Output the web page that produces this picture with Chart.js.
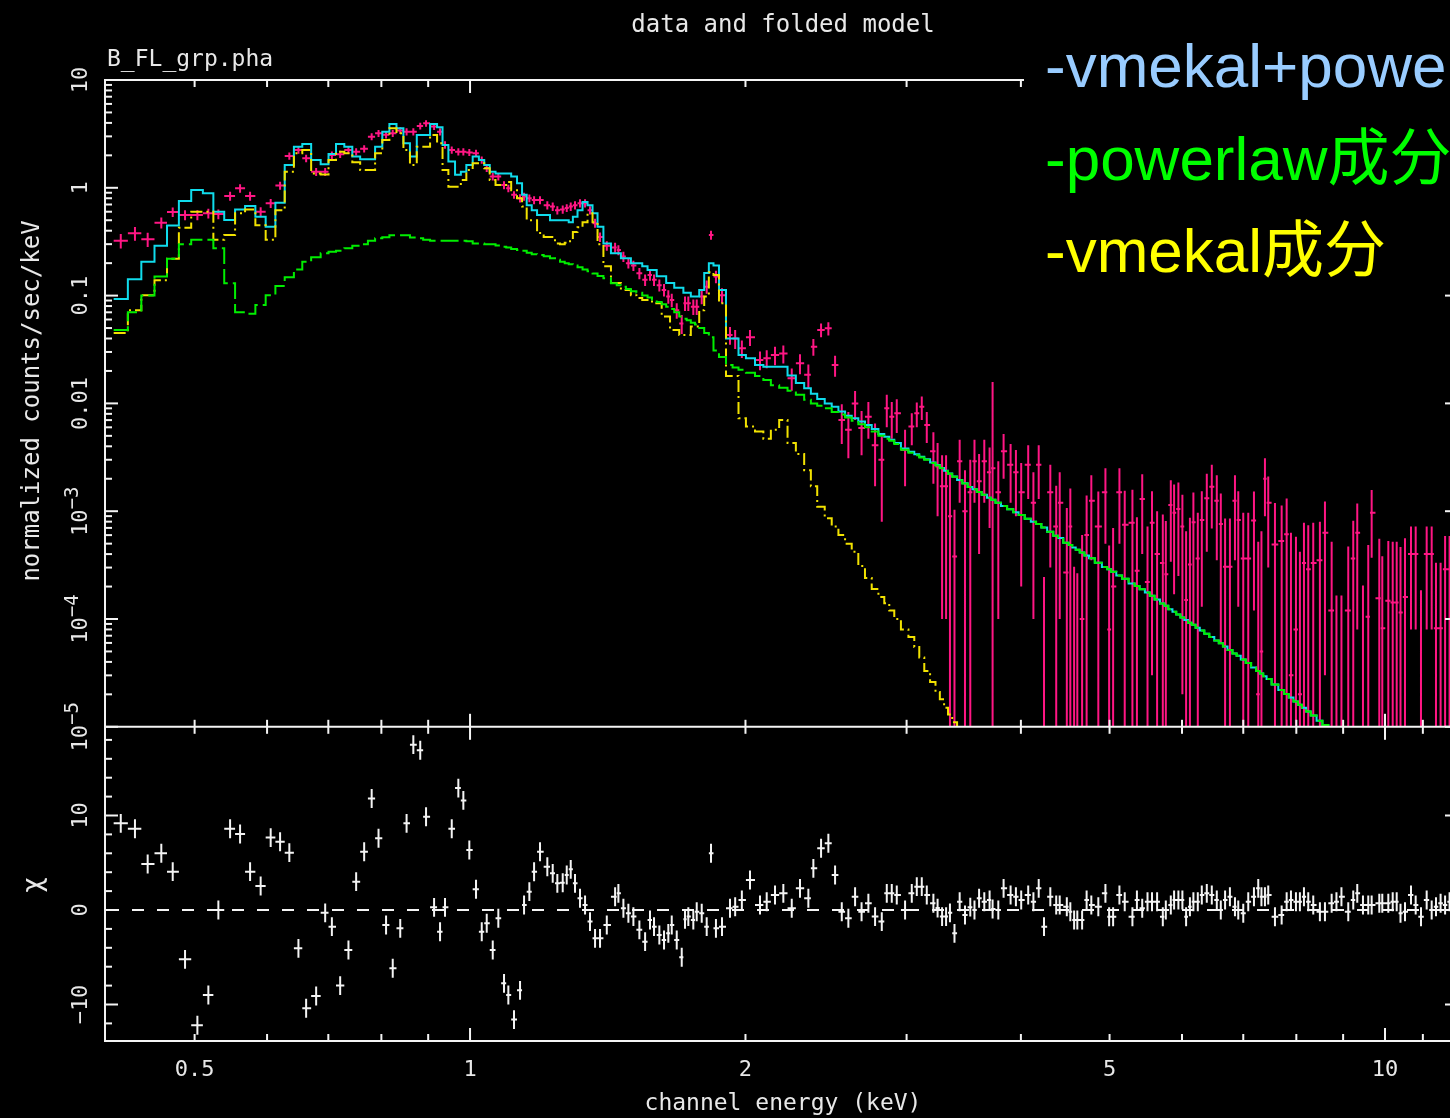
<!DOCTYPE html>
<html>
<head>
<meta charset="utf-8">
<script src="https://cdn.jsdelivr.net/npm/chart.js"></script>
<style>
html,body{margin:0;padding:0;background:#000;overflow:hidden;width:1450px;height:1118px;}
#wrap{position:relative;width:1450px;height:1118px;overflow:hidden;background:#000;}
#c{position:absolute;left:0;top:0;}
</style>
</head>
<body>
<div id="wrap"><canvas id="c" width="1460" height="1118" style="width:1460px;height:1118px;"></canvas></div>
<script>
// ---------------- data ----------------
const energy = [
0.4152,0.4303,0.4443,0.4598,0.4732,0.4881,0.5035,0.5176,0.5308,0.5467,
0.5606,0.5749,0.5904,0.6055,0.6200,0.6346,0.6493,0.6620,0.6789,0.6945,
0.7063,0.7212,0.7364,0.7508,0.7661,0.7807,0.7943,0.8095,0.8232,0.8389,
0.8524,0.8670,0.8822,0.8952,0.9135,0.9273,0.9390,0.9550,0.9710,0.9833,
0.9982,1.0152,1.0299,1.0429,1.0588,1.0738,1.0893,1.1012,1.1170,1.1341,
1.1456,1.1610,1.1749,1.1926,1.2147,1.2313,1.2457,1.2627,1.2755,1.2884,
1.3024,1.3189,1.3357,1.3525,1.3697,1.3870,1.4108,1.4406,1.4526,1.4710,
1.4896,1.5085,1.5314,1.5536,1.5729,1.5889,1.6103,1.6294,1.6471,1.6613,
1.6823,1.7036,1.7178,1.7321,1.7540,1.7691,1.7915,1.8141,1.8339,1.8568,
1.8853,1.9236,1.9488,1.9819,2.0229,2.0745,2.1098,2.1544,2.2000,2.2470,
2.2941,2.3430,2.3727,2.4191,2.4640,2.5059,2.5485,2.5912,2.6353,2.6787,
2.7250,2.7713,2.8185,2.8541,2.8902,2.9268,2.9886,3.0395,3.0780,3.1169,
3.1564,3.2094,3.2435,3.2804,3.3136,3.3460,3.3843,3.4288,3.4749,3.5216,
3.5590,3.6005,3.6480,3.6970,3.7250,3.7789,3.8296,3.8977,3.9501,4.0031,
4.0743,4.1280,4.1834,4.2397,4.3074,4.3719,4.4105,4.4900,4.5298,4.5733,
4.6103,4.6663,4.7195,4.7756,4.8605,4.9482,4.9945,5.0450,5.1257,5.1945,
5.2961,5.3563,5.4283,5.5011,5.5637,5.6355,5.7170,5.7603,5.8332,5.8817,
5.9457,6.0058,6.0621,6.1206,6.1745,6.2432,6.3064,6.3861,6.4670,6.5488,
6.6151,6.6871,6.7687,6.8553,6.9125,6.9999,7.0885,7.1909,7.2691,7.3278,
7.3926,7.4542,7.5813,7.7100,7.8076,7.8926,7.9925,8.0723,8.1551,8.2439,
8.3482,8.4889,8.5977,8.7439,8.8502,8.9622,9.1170,9.2324,9.3258,9.4607,
9.5877,9.6701,9.8576,9.9323,10.084,10.196,10.299,10.398,10.516,10.676,
10.803,10.948,11.106,11.247,11.369,11.502,11.633,11.765
];
const rate = [
0.323,0.378,0.333,0.474,0.596,0.56,0.56,0.58,0.57,0.84,
0.99,0.84,0.60,0.718,1.05,1.97,2.24,1.88,1.41,1.41,
2.01,2.05,2.24,2.16,2.3,2.98,3.2,3.1,3.2,3.4,
3.31,3.31,3.74,3.96,3.7,3.31,2.5,2.24,2.16,2.16,
2.13,2.09,1.81,1.52,1.27,1.27,1.06,0.99,0.86,0.80,
0.83,0.80,0.77,0.77,0.69,0.67,0.62,0.63,0.65,0.67,
0.69,0.72,0.72,0.62,0.47,0.35,0.29,0.28,0.265,0.23,
0.2,0.19,0.161,0.14,0.155,0.14,0.125,0.113,0.098,0.091,
0.073,0.055,0.085,0.085,0.079,0.079,0.098,0.121,0.365,0.15,
0.101,0.043,0.04,0.0324,0.041,0.0253,0.0262,0.0281,0.029,0.0171,
0.0236,0.0184,0.0336,0.048,0.0497,0.0227,0.007,0.0057,0.01,0.0059,
0.0075,0.0041,0.003,0.009,0.0075,0.0081,0.0037,0.0061,0.0081,0.0093,
0.0063,0.0036,0.0026,0.0017,0.0017,0.0009,0.00038,0.0029,0.001,0.0015,
0.0029,0.0019,0.0029,0.0023,0.0025,0.0015,0.0036,0.0027,0.0023,0.0015,
0.0027,0.0012,0.0027,0.000005,0.0015,0.00072,0.0012,0.00027,0.00072,0.000005,
0.000005,0.0001,0.0006,0.00125,0.00072,0.0015,0.00008,0.0002,0.0015,0.00075,
0.00078,0.00028,0.0013,0.00022,0.00078,0.0004,0.00033,0.00026,0.00114,0.00097,
0.00105,0.00072,0.00015,0.00032,0.00079,0.000365,0.00083,0.00132,0.00169,0.00125,
0.00076,0.000305,0.000305,0.00125,0.00083,0.000365,0.000365,0.00082,0.00002,0.00005,
0.002,0.0012,0.00049,0.00053,0.00061,0.00003,0.00008,0.00002,0.00033,0.00029,
0.00033,0.00035,0.00063,0.00012,0.000005,0.000005,0.00012,0.000365,0.00063,0.000005,
0.000105,0.00097,0.000156,0.000082,0.000148,0.000142,0.000142,0.000115,0.00016,0.0004,
0.0004,0.000005,0.0004,0.0004,0.000082,0.000082,0.00029,0.00029
];
const rateErr = [
0.05,0.055,0.05,0.055,0.06,0.06,0.06,0.06,0.06,0.08,
0.09,0.08,0.06,0.07,0.09,0.15,0.17,0.15,0.12,0.12,
0.16,0.16,0.17,0.17,0.18,0.22,0.24,0.23,0.24,0.25,
0.25,0.25,0.27,0.28,0.27,0.25,0.2,0.17,0.17,0.17,
0.16,0.16,0.14,0.12,0.1,0.1,0.09,0.08,0.07,0.07,
0.07,0.065,0.065,0.065,0.06,0.06,0.055,0.055,0.055,0.06,
0.06,0.065,0.065,0.055,0.045,0.035,0.03,0.03,0.028,0.025,
0.022,0.021,0.019,0.017,0.018,0.017,0.016,0.015,0.014,0.013,
0.012,0.011,0.013,0.013,0.013,0.013,0.015,0.017,0.035,0.02,
0.016,0.008,0.008,0.006,0.007,0.005,0.005,0.0055,0.0055,0.004,
0.005,0.0045,0.006,0.007,0.007,0.005,0.0028,0.0026,0.003,0.0026,
0.0028,0.0024,0.0022,0.003,0.0028,0.0028,0.002,0.002,0.0021,0.0023,
0.002,0.0018,0.0017,0.0016,0.0016,0.0013,0.00065,0.0017,0.0014,0.0015,
0.0017,0.0015,0.0017,0.0016,0.0133,0.0014,0.0016,0.0015,0.0014,0.0013,
0.0014,0.0011,0.0014,0.00024,0.0012,0.001,0.0011,0.0008,0.0009,0.0003,
0.00026,0.0005,0.0008,0.0009,0.0008,0.001,0.0004,0.0005,0.001,0.0008,
0.0008,0.0006,0.0009,0.0005,0.00075,0.0006,0.0006,0.00055,0.0008,0.0008,
0.0008,0.0007,0.0005,0.00055,0.0007,0.0006,0.0007,0.0009,0.001,0.0009,
0.0007,0.00055,0.00055,0.0009,0.0007,0.0006,0.0006,0.0007,0.0005,0.0006,
0.0011,0.0009,0.0007,0.0006,0.0007,0.0006,0.0005,0.0004,0.00045,0.00045,
0.00045,0.00045,0.0006,0.0004,0.00016,0.00016,0.00035,0.00045,0.00055,0.0002,
0.00038,0.0006,0.0004,0.0003,0.00038,0.00038,0.00038,0.00035,0.0004,0.00032,
0.00032,0.00018,0.00032,0.00032,0.00025,0.00025,0.0003,0.0003
];
const modelTotal = [
0.093,0.142,0.206,0.29,0.446,0.755,0.955,0.89,0.6,0.502,
0.63,0.678,0.54,0.436,0.727,1.63,2.4,2.55,1.81,1.65,
2.06,2.55,2.4,1.95,1.84,1.84,2.4,3.31,3.91,3.56,
2.59,1.95,3.09,3.09,3.91,3.64,2.5,1.75,1.32,1.41,
1.63,1.95,1.81,1.63,1.41,1.36,1.36,1.36,1.27,1.1,
0.86,0.69,0.62,0.56,0.56,0.5,0.5,0.5,0.5,0.48,
0.54,0.62,0.74,0.69,0.58,0.436,0.305,0.247,0.247,0.222,
0.222,0.2,0.2,0.187,0.173,0.173,0.151,0.151,0.131,0.131,
0.118,0.118,0.106,0.106,0.098,0.098,0.113,0.162,0.2,0.19,
0.113,0.04,0.04,0.0281,0.0262,0.0227,0.0219,0.0219,0.0219,0.0181,
0.0155,0.0138,0.0123,0.011,0.01,0.0093,0.0084,0.0077,0.0073,0.0068,
0.0063,0.0058,0.0052,0.0049,0.0046,0.0043,0.00382,0.00356,0.00337,0.0032,
0.00303,0.00283,0.00268,0.00251,0.00237,0.00224,0.0021,0.00195,0.00182,0.00168,
0.0016,0.00151,0.00142,0.00133,0.00128,0.0012,0.00112,0.00104,0.00098,0.00092,
0.00085,0.0008,0.00076,0.000705,0.000644,0.000593,0.000564,0.000509,0.000485,0.00046,
0.00044,0.000413,0.000389,0.000366,0.000333,0.000303,0.000289,0.000274,0.000253,0.000236,
0.000214,0.000202,0.000189,0.000176,0.000164,0.000152,0.000139,0.000133,0.000123,0.000117,
0.00011,0.000103,0.000098,0.0000925,0.0000883,0.000083,0.0000784,0.000073,0.0000679,0.0000632,
0.0000596,0.0000557,0.0000516,0.0000479,0.0000455,0.0000422,0.0000391,0.0000355,0.000033,0.0000312,
0.0000294,0.0000277,0.0000247,0.000022,0.0000202,0.0000187,0.0000172,0.000016,0.000015,0.0000139,
0.0000127,0.0000114,0.0000104,0.0000092,0.0000085,0.0000078,0.0000069,0.0000063,0.0000059,0.0000053,
0.0000048,0.0000045,0.000004,0.0000038,0.0000034,0.0000031,0.0000029,0.0000027,0.0000025,0.00000225,
0.00000207,0.00000188,0.0000017,0.00000155,0.00000144,0.00000132,0.00000122,0.00000113
];
const modelPowerlaw = [
0.048,0.07,0.1,0.15,0.22,0.3,0.33,0.33,0.275,0.13,
0.07,0.068,0.082,0.101,0.123,0.148,0.175,0.206,0.227,0.247,
0.255,0.261,0.275,0.29,0.3,0.323,0.34,0.347,0.363,0.363,
0.363,0.345,0.34,0.33,0.323,0.323,0.323,0.323,0.323,0.323,
0.32,0.305,0.305,0.3,0.3,0.292,0.284,0.28,0.27,0.265,
0.26,0.25,0.242,0.238,0.232,0.222,0.215,0.206,0.2,0.195,
0.19,0.183,0.175,0.168,0.16,0.152,0.145,0.13,0.125,0.121,
0.115,0.11,0.106,0.1,0.096,0.092,0.087,0.083,0.079,0.075,
0.07,0.064,0.061,0.059,0.056,0.054,0.05,0.045,0.041,0.031,
0.027,0.0227,0.0215,0.0205,0.0192,0.018,0.0165,0.0147,0.014,0.0131,
0.012,0.0108,0.01,0.0095,0.009,0.0083,0.0079,0.0074,0.0069,0.0064,
0.006,0.0055,0.005,0.0047,0.0045,0.0042,0.00372,0.00349,0.00331,0.00315,
0.003,0.0028,0.00266,0.0025,0.00236,0.00223,0.00209,0.00194,0.00181,0.00168,
0.0016,0.00151,0.00142,0.00133,0.00128,0.0012,0.00112,0.00104,0.00098,0.00092,
0.00085,0.0008,0.00076,0.000705,0.000644,0.000593,0.000564,0.000509,0.000485,0.00046,
0.00044,0.000413,0.000389,0.000366,0.000333,0.000303,0.000289,0.000274,0.000253,0.000236,
0.000214,0.000202,0.000189,0.000176,0.000164,0.000152,0.000139,0.000133,0.000123,0.000117,
0.00011,0.000103,0.000098,0.0000925,0.0000883,0.000083,0.0000784,0.000073,0.0000679,0.0000632,
0.0000596,0.0000557,0.0000516,0.0000479,0.0000455,0.0000422,0.0000391,0.0000355,0.000033,0.0000312,
0.0000294,0.0000277,0.0000247,0.000022,0.0000202,0.0000187,0.0000172,0.000016,0.000015,0.0000139,
0.0000127,0.0000114,0.0000104,0.0000092,0.0000085,0.0000078,0.0000069,0.0000063,0.0000059,0.0000053,
0.0000048,0.0000045,0.000004,0.0000038,0.0000034,0.0000031,0.0000029,0.0000027,0.0000025,0.00000225,
0.00000207,0.00000188,0.0000017,0.00000155,0.00000144,0.00000132,0.00000122,0.00000113
];
const modelVmekal = [
0.045,0.073,0.101,0.139,0.22,0.426,0.6,0.6,0.33,0.365,
0.58,0.63,0.45,0.33,0.62,1.41,2.09,2.24,1.36,1.33,
1.81,2.16,2.09,1.73,1.46,1.46,2.09,2.77,3.56,3.2,
2.24,1.63,2.4,2.4,3.09,2.59,1.46,1.02,1.02,1.18,
1.46,1.69,1.69,1.52,1.18,1.06,1.06,1.13,0.95,0.8,
0.67,0.5,0.5,0.38,0.35,0.35,0.305,0.3,0.31,0.32,
0.39,0.43,0.48,0.58,0.48,0.3,0.187,0.131,0.131,0.113,
0.113,0.101,0.095,0.091,0.091,0.085,0.085,0.064,0.064,0.048,
0.048,0.043,0.043,0.043,0.0517,0.0517,0.073,0.098,0.165,0.155,
0.085,0.018,0.018,0.0073,0.0061,0.0055,0.0047,0.0057,0.007,0.0043,
0.0034,0.0024,0.0017,0.0011,0.00086,0.00072,0.0006,0.0005,0.00042,0.00031,
0.00024,0.00019,0.00016,0.00014,0.00012,0.0001,0.00008,0.000068,0.000055,0.000044,
0.000033,0.000026,0.000021,0.000018,0.000015,0.000013,0.000011,0.0000085,0.000007,0.000005
];
const chi = [
9.17,8.6,4.87,6.0,4.06,-5.22,-12.2,-9.0,0,8.6,
8.04,4.06,2.54,7.66,7.23,6.07,-4.06,-10.4,-9.1,-0.3,
-1.76,-8.0,-4.23,3.0,6.17,11.8,7.59,-1.59,-6.17,-1.94,
9.17,17.5,16.9,9.87,0.28,-2.3,0.28,8.6,12.9,11.6,
6.35,2.19,-2.3,-1.41,-4.23,-0.88,-7.76,-9.0,-11.6,-8.5,
0.53,1.94,4.05,6.17,4.58,3.88,2.82,2.89,3.7,4.3,
2.82,1.24,0.53,-1.23,-3.0,-3.0,-1.59,1.41,1.76,0.18,
-0.35,-0.7,-2.1,-3.35,-1.06,-1.76,-2.65,-3.17,-2.47,-1.59,
-3.17,-5.0,-0.99,-0.7,-1.06,-0.18,-0.35,-1.76,6.0,-1.94,
-1.76,0.18,0.35,1.06,3.17,0.53,0.88,1.59,1.76,0.18,
2.29,1.24,4.41,6.53,7.06,3.7,-0.18,-0.88,1.41,-0.18,
0.71,-0.7,-1.23,1.76,1.76,1.59,0,1.76,2.47,2.47,
1.59,0.71,0.2,-0.7,-0.7,-0.3,-2.47,0.88,-0.53,0.3,
0,1.24,0.88,1.06,0.1,0,2.29,1.59,1.41,1.06,
1.59,0.88,2.29,-1.76,1.41,0.53,0.53,0.35,-0.18,-1.06,
-1.06,-1.06,1.06,0.53,0.35,1.76,-0.71,-0.71,1.59,0.88,
-0.71,1.06,0.18,0.88,0.88,0.88,-0.71,0,0.53,1.06,
1.06,1.06,-0.71,0.35,0.88,0.88,1.59,1.76,1.59,1.06,
0,1.06,1.41,0.35,0,-0.35,0.88,1.41,2.29,1.41,
1.41,1.59,-0.71,-0.53,0.88,1.06,0.88,0.88,1.41,0.88,
0.53,-0.18,-0.18,0.71,0.88,1.41,-0.18,1.06,1.76,0.53,
0.53,0.53,0.71,0.71,0.71,0.88,0.88,-0.35,-0.18,1.59,
0.53,-0.71,1.06,0,0.35,0.71,0.53,0.88
];
const xTickValues = [0.5,0.6,0.7,0.8,0.9,1,2,3,4,5,6,7,8,9,10,11,12];
const xMajorTicks = [1,10];
const xLabelValues = [0.5,1,2,5,10];
const xLabels = ['0.5','1','2','5','10'];
const yLabelValues = [10,1,0.1,0.01,1e-3,1e-4,1e-5];
const yLabels = [['10',''],['1',''],['0.1',''],['0.01',''],['10','\u22123'],['10','\u22124'],['10','\u22125']];
const chiLabelValues = [10,0,-10];
const chiLabels = ['10','0','\u221210'];
const legendLines = [
  {text:'-vmekal+powerlaw', color:'#99ccff'},
  {text:'-powerlaw\u6210\u5206', color:'#00ff00'},
  {text:'-vmekal\u6210\u5206', color:'#ffff00'}
];

// ---------------- layout constants ----------------
const TOP = 80, MID = 727, BOT = 1041, LEFT = 105, RIGHTPX = 1458;
const DECADE = 107.8;               // px per decade (upper panel)
const CHIPX = 9.45;                 // px per chi unit (lower panel)
const CHI0 = 910;                   // px of chi = 0
const X_MIN = 0.39905, X_MAX = 12.017;
const Y_MAX = 10, Y_MIN = Math.pow(10, 1 - (BOT - TOP) / DECADE);
const C_MAX = (CHI0 - TOP) / CHIPX, C_MIN = -(BOT - CHI0) / CHIPX;

const MAG = '#ff1684', CYAN = '#10dcec', GRN = '#00ee00', YEL = '#f2e200', WHITE = '#f4f4f4';

// ---------------- build library data ----------------
const n = energy.length;
const edges = new Array(n + 1);
for (let i = 1; i < n; i++) edges[i] = Math.sqrt(energy[i - 1] * energy[i]);
edges[0] = energy[0] * energy[0] / edges[1];
edges[n] = energy[n - 1] * energy[n - 1] / edges[n - 1];

const dataCross = [];
for (let i = 0; i < n; i++) {
  const v = rate[i], e = rateErr[i];
  dataCross.push({x: edges[i], y: v}, {x: edges[i + 1], y: v}, {x: edges[i + 1], y: null});
  dataCross.push({x: energy[i], y: Math.max(v - e, 1e-10)}, {x: energy[i], y: v + e}, {x: energy[i], y: null});
}
const chiCross = [];
for (let i = 0; i < n; i++) {
  const c = chi[i];
  chiCross.push({x: edges[i], y: c}, {x: edges[i + 1], y: c}, {x: edges[i + 1], y: null});
  chiCross.push({x: energy[i], y: c - 1}, {x: energy[i], y: c + 1}, {x: energy[i], y: null});
}
function steps(vals) {
  const pts = [];
  for (let i = 0; i < vals.length; i++) pts.push({x: edges[i], y: vals[i]}, {x: edges[i + 1], y: vals[i]});
  return pts;
}
const clipTop = {left: 0, top: 0, right: 0, bottom: -(BOT - MID)};
const clipBot = {left: 0, top: -(MID - TOP), right: 0, bottom: 0};
const base = {pointRadius: 0, pointHoverRadius: 0, fill: false, tension: 0, spanGaps: false, borderWidth: 2};

// ---------------- frame / text plugin ----------------
const framePlugin = {
  id: 'xspecFrame',
  afterDraw(chart) {
    const ctx = chart.ctx, a = chart.chartArea;
    const xs = chart.scales.x, ys = chart.scales.y, yc = chart.scales.y2;
    const mid = ys.getPixelForValue(1e-5);
    ctx.save();
    ctx.strokeStyle = WHITE; ctx.lineWidth = 2; ctx.lineCap = 'butt';
    const seg = (x1, y1, x2, y2) => { ctx.beginPath(); ctx.moveTo(x1, y1); ctx.lineTo(x2, y2); ctx.stroke(); };
    // frame
    seg(a.left, a.top, a.right, a.top);
    seg(a.left, mid, a.right, mid);
    seg(a.left, a.bottom, a.right, a.bottom);
    seg(a.left, a.top - 1, a.left, a.bottom + 1);
    seg(a.right, a.top - 1, a.right, a.bottom + 1);
    // x ticks
    xTickValues.forEach(t => {
      const px = xs.getPixelForValue(t);
      const L = xMajorTicks.includes(t) ? 13 : 7;
      seg(px, a.top, px, a.top + L);
      seg(px, mid - L, px, mid + L);
      seg(px, a.bottom, px, a.bottom - L);
    });
    // y ticks upper panel
    for (let p = -5; p <= 1; p++) {
      const d = Math.pow(10, p);
      let py = ys.getPixelForValue(d);
      seg(a.left, py, a.left + 13, py); seg(a.right, py, a.right - 13, py);
      if (p < 1) for (let k = 2; k <= 9; k++) {
        py = ys.getPixelForValue(k * d);
        seg(a.left, py, a.left + 7, py); seg(a.right, py, a.right - 7, py);
      }
    }
    // y ticks lower panel
    for (let c = -12; c <= 18; c += 2) {
      const py = yc.getPixelForValue(c);
      const L = (c % 10 === 0) ? 13 : 7;
      seg(a.left, py, a.left + L, py); seg(a.right, py, a.right - L, py);
    }
    // text
    ctx.fillStyle = '#e8e8e8';
    const mono = '"DejaVu Sans Mono", "Liberation Mono", monospace';
    // rotated label helper
    const vlabel = (main, sup, cy, bx, size) => {
      ctx.save();
      ctx.translate(bx, cy); ctx.rotate(-Math.PI / 2);
      ctx.textBaseline = 'alphabetic'; ctx.textAlign = 'left';
      ctx.font = size + 'px ' + mono;
      const w1 = ctx.measureText(main).width;
      ctx.font = Math.round(size * 0.85) + 'px ' + mono;
      const w2 = sup ? ctx.measureText(sup).width : 0;
      const start = -(w1 + w2) / 2;
      ctx.font = size + 'px ' + mono;
      ctx.fillText(main, start, 0);
      if (sup) { ctx.font = Math.round(size * 0.85) + 'px ' + mono; ctx.fillText(sup, start + w1, -9); }
      ctx.restore();
    };
    yLabelValues.forEach((v, i) => vlabel(yLabels[i][0], yLabels[i][1], ys.getPixelForValue(v), 87, 22));
    chiLabelValues.forEach((v, i) => vlabel(chiLabels[i], '', yc.getPixelForValue(v), 87, 22));
    // x labels
    ctx.font = '22px ' + mono; ctx.textAlign = 'center'; ctx.textBaseline = 'alphabetic';
    xLabelValues.forEach((v, i) => ctx.fillText(xLabels[i], xs.getPixelForValue(v), 1076));
    // titles
    ctx.font = '24px ' + mono; ctx.fillText('data and folded model', 783, 32);
    ctx.font = '23px ' + mono; ctx.fillText('channel energy (keV)', 783, 1110);
    ctx.textAlign = 'left'; ctx.font = '23px ' + mono; ctx.fillText('B_FL_grp.pha', 107, 66);
    // y titles
    ctx.save(); ctx.translate(39, 401); ctx.rotate(-Math.PI / 2);
    ctx.textAlign = 'center'; ctx.font = '24px ' + mono; ctx.fillText('normalized counts/sec/keV', 0, 0);
    ctx.restore();
    ctx.save(); ctx.translate(34, 885); ctx.rotate(-Math.PI / 2);
    ctx.textAlign = 'center'; ctx.textBaseline = 'middle'; ctx.font = '26px "DejaVu Sans", sans-serif'; ctx.fillText('\u03c7', 0, 0);
    ctx.restore();
    // legend overlay (pasted label block)
    ctx.fillStyle = '#000'; ctx.fillRect(1024, 0, 440, 294);
    ctx.font = '62px "Liberation Sans", Arial, "Noto Sans CJK SC", sans-serif';
    ctx.textAlign = 'left'; ctx.textBaseline = 'alphabetic';
    const baselines = [87, 180, 272];
    legendLines.forEach((l, i) => { ctx.fillStyle = l.color; ctx.fillText(l.text, 1045, baselines[i]); });
    ctx.restore();
  }
};

new Chart(document.getElementById('c'), {
  type: 'line',
  data: {
    datasets: [
      Object.assign({label: 'data', data: dataCross, yAxisID: 'y', borderColor: MAG, clip: clipTop, order: 6}, base),
      Object.assign({label: 'vmekal+powerlaw', data: steps(modelTotal), yAxisID: 'y', borderColor: CYAN, clip: clipTop, order: 5}, base),
      Object.assign({label: 'vmekal', data: steps(modelVmekal), yAxisID: 'y', borderColor: YEL, borderDash: [12, 4, 2, 4], clip: clipTop, order: 4}, base),
      Object.assign({label: 'powerlaw', data: steps(modelPowerlaw), yAxisID: 'y', borderColor: GRN, borderDash: [18, 5], clip: clipTop, order: 3}, base),
      Object.assign({label: 'zero', data: [{x: X_MIN, y: 0}, {x: X_MAX, y: 0}], yAxisID: 'y2', borderColor: WHITE, borderDash: [12, 13], borderDashOffset: -2, clip: clipBot, order: 2}, base),
      Object.assign({label: 'residuals', data: chiCross, yAxisID: 'y2', borderColor: WHITE, clip: clipBot, order: 1}, base)
    ]
  },
  options: {
    responsive: false, animation: false, devicePixelRatio: 1, events: [],
    layout: {padding: {left: LEFT, top: TOP, right: 1460 - RIGHTPX, bottom: 1118 - BOT}},
    plugins: {legend: {display: false}, tooltip: {enabled: false}, title: {display: false}},
    scales: {
      x: {type: 'logarithmic', min: X_MIN, max: X_MAX, display: false},
      y: {type: 'logarithmic', min: Y_MIN, max: Y_MAX, display: false},
      y2: {type: 'linear', min: C_MIN, max: C_MAX, display: false}
    }
  },
  plugins: [framePlugin]
});
</script>
</body>
</html>
